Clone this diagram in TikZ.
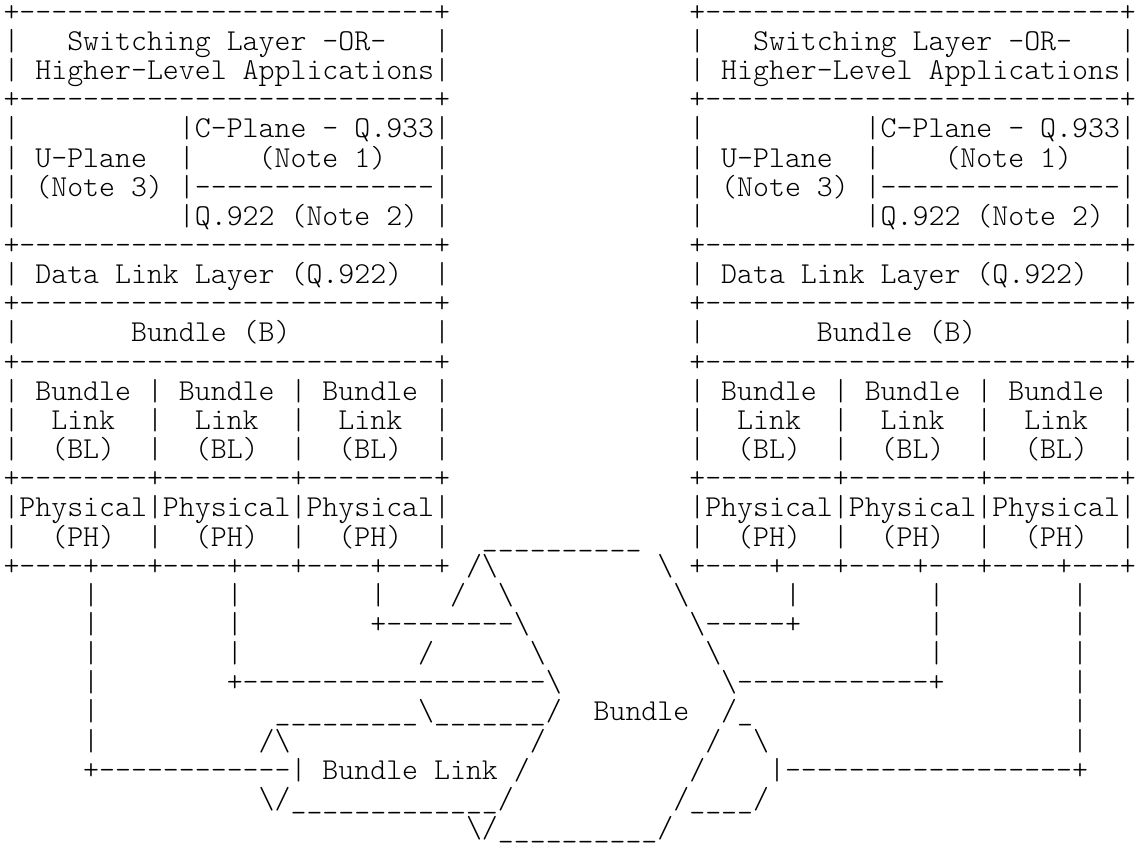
\documentclass[tikz,border=0pt]{standalone}
\usepackage{fontspec}
\newfontfamily\asciifont{lmmonolt10-regular.otf}
\newlength\cw
\setlength\cw{15.95pt}
\newlength\gw
\settowidth\gw{\fontsize{30}{30}\asciifont M}
\pgfmathsetmacro\fsz{30*\cw/\gw}
\newcommand\sk[1]{\hspace*{#1\cw}}
\newcommand\bsl{\textbackslash}
\begin{document}
\begin{tikzpicture}[x=1pt,y=1pt,
  asciirow/.style={anchor=base west, inner sep=0pt, outer sep=0pt,
    font=\fontsize{\fsz}{30}\asciifont}]
\fill[white] (0,0) rectangle (1136,-847);
\useasboundingbox (0,0) rectangle (1136,-847);
\node[asciirow] (r0) at (3.5,-21.3-29.15*0) {+--------------------------+\sk{15}+--------------------------+};
\node[asciirow] (r1) at (3.5,-21.3-29.15*1) {|~~~Switching~Layer~-OR-~~~|\sk{15}|~~~Switching~Layer~-OR-~~~|};
\node[asciirow] (r2) at (3.5,-21.3-29.15*2) {|~Higher-Level~Applications|\sk{15}|~Higher-Level~Applications|};
\node[asciirow] (r3) at (3.5,-21.3-29.15*3) {+--------------------------+\sk{15}+--------------------------+};
\node[asciirow] (r4) at (3.5,-21.3-29.15*4) {|\sk{10}|C-Plane~-~Q.933|\sk{15}|\sk{10}|C-Plane~-~Q.933|};
\node[asciirow] (r5) at (3.5,-21.3-29.15*5) {|~U-Plane~~|~~~~(Note~1)~~~|\sk{15}|~U-Plane~~|~~~~(Note~1)~~~|};
\node[asciirow] (r6) at (3.5,-21.3-29.15*6) {|~(Note~3)~|---------------|\sk{15}|~(Note~3)~|---------------|};
\node[asciirow] (r7) at (3.5,-21.3-29.15*7) {|\sk{10}|Q.922~(Note~2)~|\sk{15}|\sk{10}|Q.922~(Note~2)~|};
\node[asciirow] (r8) at (3.5,-21.3-29.15*8) {+--------------------------+\sk{15}+--------------------------+};
\node[asciirow] (r9) at (3.5,-21.3-29.15*9) {|~Data~Link~Layer~(Q.922)~~|\sk{15}|~Data~Link~Layer~(Q.922)~~|};
\node[asciirow] (r10) at (3.5,-21.3-29.15*10) {+--------------------------+\sk{15}+--------------------------+};
\node[asciirow] (r11) at (3.5,-21.3-29.15*11) {|\sk{7}Bundle~(B)\sk{9}|\sk{15}|\sk{7}Bundle~(B)\sk{9}|};
\node[asciirow] (r12) at (3.5,-21.3-29.15*12) {+--------------------------+\sk{15}+--------------------------+};
\node[asciirow] (r13) at (3.5,-21.3-29.15*13) {|~Bundle~|~Bundle~|~Bundle~|\sk{15}|~Bundle~|~Bundle~|~Bundle~|};
\node[asciirow] (r14) at (3.5,-21.3-29.15*14) {|~~Link~~|~~Link~~|~~Link~~|\sk{15}|~~Link~~|~~Link~~|~~Link~~|};
\node[asciirow] (r15) at (3.5,-21.3-29.15*15) {|~~(BL)~~|~~(BL)~~|~~(BL)~~|\sk{15}|~~(BL)~~|~~(BL)~~|~~(BL)~~|};
\node[asciirow] (r16) at (3.5,-21.3-29.15*16) {+--------+--------+--------+\sk{15}+--------+--------+--------+};
\node[asciirow] (r17) at (3.5,-21.3-29.15*17) {|Physical|Physical|Physical|\sk{15}|Physical|Physical|Physical|};
\node[asciirow] (r18) at (3.5,-21.3-29.15*18) {|~~(PH)~~|~~(PH)~~|~~(PH)~~|\sk{2}\_\_\_\_\_\_\_\_\_\_\sk{3}|~~(PH)~~|~~(PH)~~|~~(PH)~~|};
\node[asciirow] (r19) at (3.5,-21.3-29.15*19) {+----+---+----+---+----+---+~/\bsl\sk{10}\bsl~+----+---+----+---+----+---+};
\node[asciirow] (r20) at (3.5,-21.3-29.15*20) {\sk{5}|\sk{8}|\sk{8}|\sk{4}/\sk{2}\bsl\sk{10}\bsl\sk{6}|\sk{8}|\sk{8}|};
\node[asciirow] (r21) at (3.5,-21.3-29.15*21) {\sk{5}|\sk{8}|\sk{8}+--------\bsl\sk{10}\bsl-----+\sk{8}|\sk{8}|};
\node[asciirow] (r22) at (3.5,-21.3-29.15*22) {\sk{5}|\sk{8}|\sk{11}/\sk{6}\bsl\sk{10}\bsl\sk{13}|\sk{8}|};
\node[asciirow] (r23) at (3.5,-21.3-29.15*23) {\sk{5}|\sk{8}+-------------------\bsl\sk{10}\bsl------------+\sk{8}|};
\node[asciirow] (r24) at (3.5,-21.3-29.15*24) {\sk{5}|\sk{11}\_\_\_\_\_\_\_\_\_\bsl\_\_\_\_\_\_\_/\sk{2}Bundle\sk{2}/\_\sk{20}|};
\node[asciirow] (r25) at (3.5,-21.3-29.15*25) {\sk{5}|\sk{10}/\bsl\sk{15}/\sk{10}/\sk{2}\bsl\sk{19}|};
\node[asciirow] (r26) at (3.5,-21.3-29.15*26) {\sk{5}+------------|~Bundle~Link~/\sk{10}/\sk{4}|------------------+};
\node[asciirow] (r27) at (3.5,-21.3-29.15*27) {\sk{16}\bsl/\_\_\_\_\_\_\_\_\_\_\_\_\_/\sk{10}/\_\_\_\_/};
\node[asciirow] (r28) at (3.5,-21.3-29.15*28) {\sk{29}\bsl/\_\_\_\_\_\_\_\_\_\_/};
\end{tikzpicture}
\end{document}
